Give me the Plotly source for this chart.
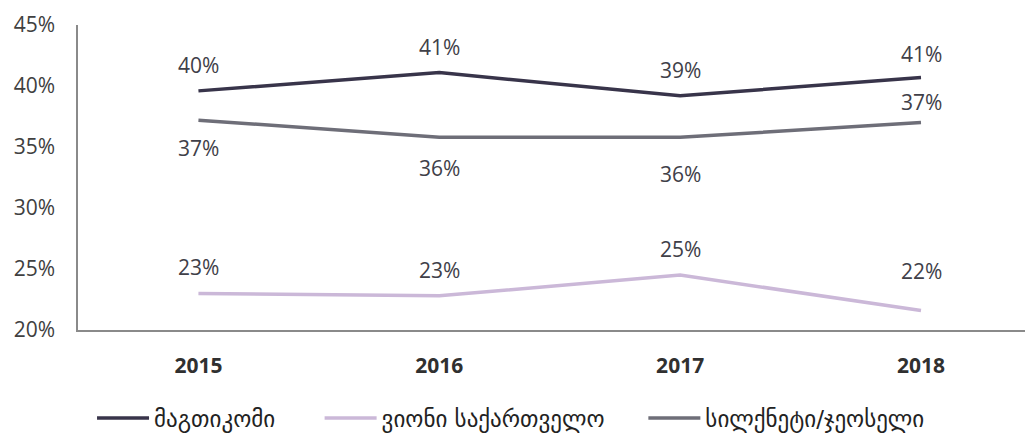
import plotly.graph_objects as go

years = ["2015", "2016", "2017", "2018"]
series_names = ["მაგთიკომი", "ვიონი საქართველო", "სილქნეტი/ჯეოსელი"]
magti = [39.6, 41.1, 39.2, 40.7]
magti_labels = ["40%", "41%", "39%", "41%"]
vioni = [23.0, 22.8, 24.5, 21.6]
vioni_labels = ["23%", "23%", "25%", "22%"]
silk = [37.2, 35.8, 35.8, 37.0]
silk_labels = ["37%", "36%", "36%", "37%"]
y_ticks = [20, 25, 30, 35, 40, 45]
y_tick_labels = ["20%", "25%", "30%", "35%", "40%", "45%"]

colors = ["#38344a", "#cbb8d8", "#6e6e78"]
legend_ids = ["legend", "legend2", "legend3"]
legend_x = [0.0147, 0.253, 0.592]

fig = go.Figure()
for name, vals, col, lg in zip(series_names, [magti, vioni, silk], colors, legend_ids):
    fig.add_trace(go.Scatter(x=years, y=vals, mode="lines", name=name, legend=lg,
                             line=dict(color=col, width=3.5), hoverinfo="skip"))

# label placement: signed offset multiplier per point (positive above, negative below)
label_sets = [
    (magti, magti_labels, [1, 1, 1, 0.9]),
    (vioni, vioni_labels, [1, 1, 1, 1.5]),
    (silk, silk_labels, [-1.08, -1.17, -1.4, 0.78]),
]
for vals, labs, dirs in label_sets:
    for i, (v, t, d) in enumerate(zip(vals, labs, dirs)):
        fig.add_annotation(x=i, y=v, xref="x", yref="y", text=t, showarrow=False,
                           yshift=d * 26, font=dict(size=21, color="#404048",
                                                      family="Open Sans, DejaVu Sans"))

leg_common = dict(orientation="h", xanchor="left", y=-0.289, yanchor="middle",
                  font=dict(size=23, color="#222222", family="DejaVu Sans"),
                  itemwidth=52, bgcolor="rgba(0,0,0,0)")

fig.update_layout(
    width=1025, height=426,
    margin=dict(l=70, r=0, t=17, b=104, autoexpand=False),
    paper_bgcolor="white", plot_bgcolor="white",
    showlegend=True,
    legend=dict(x=legend_x[0], **leg_common),
    legend2=dict(x=legend_x[1], **leg_common),
    legend3=dict(x=legend_x[2], **leg_common),
    font=dict(family="Open Sans, DejaVu Sans", color="#404040"),
)
fig.update_xaxes(type="category", range=[-0.5, 3.465], showline=True, linecolor="#8a8a8a",
                 linewidth=1.5, showgrid=False, ticks="", ticklabelstandoff=16, automargin=False,
                 tickfont=dict(size=21, color="#303030", family="Open Sans, DejaVu Sans", weight="bold"))
fig.update_yaxes(range=[20, 45], tickvals=y_ticks, ticktext=y_tick_labels, showline=True,
                 linecolor="#8a8a8a", linewidth=1.5, showgrid=False, ticks="",
                 ticklabelstandoff=17, zeroline=False, automargin=False,
                 tickfont=dict(size=21, color="#404040", family="Open Sans, DejaVu Sans"))

fig.write_html("out.html")
